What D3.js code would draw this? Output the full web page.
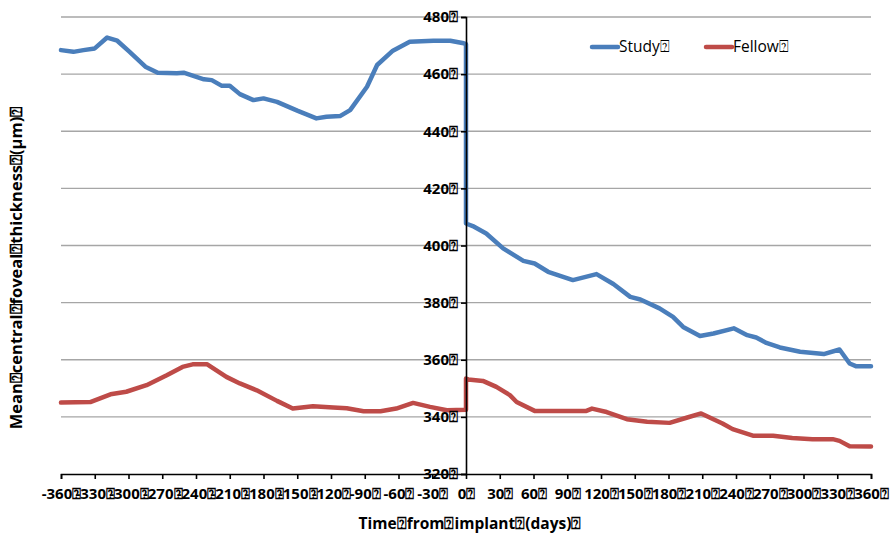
<!DOCTYPE html>
<html>
<head>
<meta charset="utf-8">
<script src="https://cdn.jsdelivr.net/npm/d3@7"></script>
<style>
  html, body { margin: 0; padding: 0; background: #fff; }
  svg { display: block; }
  text { font-family: "Open Sans", "DejaVu Sans", sans-serif; }
</style>
</head>
<body>
<svg id="chart" width="893" height="536"></svg>
<script>
// Placeholder glyph carried by every label
const BOX = "\u2370";

// Study eye: mean central foveal thickness by day relative to implant
const studyDays = [-360,-349,-340,-330,-319,-310,-299,-285,-274,-257,
  -251,-233,-226,-217,-210,-201,-189,-180,-168,-150,
  -133,-124,-112,-103,-88,-79,-65,-50,-29,-14,
  -2,0,0,6,18,33,51,61,73,95,
  116,131,146,155,172,184,193,208,220,238,
  250,258,267,279,297,318,332,341,347,360];
const studyValues = [468.4,467.8,468.4,469.0,472.8,471.7,467.8,462.6,460.5,460.3,
  460.5,458.2,457.9,455.9,455.9,453.0,450.9,451.5,450.3,447.2,
  444.5,445.1,445.3,447.4,455.6,463.2,468.2,471.3,471.7,471.7,
  470.8,470.5,407.7,406.8,404.2,399.0,394.6,393.7,390.8,387.9,
  390.0,386.5,382.0,381.1,378.0,375.0,371.5,368.3,369.2,371.0,
  368.6,367.8,365.9,364.3,362.8,362.0,363.6,358.7,357.7,357.7];

// Fellow eye
const fellowDays = [-360,-334,-316,-302,-284,-266,-252,-243,-230,-213,
  -201,-186,-168,-154,-136,-118,-106,-91,-76,-62,
  -47,-32,-17,0,0,2,15,27,39,45,
  61,107,112,125,143,161,181,196,209,228,
  237,255,273,290,308,326,332,341,360];
const fellowValues = [345.0,345.2,347.9,348.8,351.1,354.6,357.5,358.4,358.4,354.0,
  351.7,349.3,345.6,342.9,343.7,343.3,343.0,342.0,342.0,342.9,
  344.9,343.5,342.3,342.5,353.4,353.1,352.6,350.5,347.6,345.2,
  342.1,342.1,342.9,341.7,339.2,338.3,337.9,339.7,341.2,337.7,
  335.7,333.4,333.4,332.6,332.2,332.2,331.6,329.7,329.6];

const xTicks = [-360,-330,-300,-270,-240,-210,-180,-150,-120,-90,-60,-30,0,30,60,90,120,150,180,210,240,270,300,330,360];
const yTicks = [320,340,360,380,400,420,440,460,480];

const seriesNames = ["Study", "Fellow"];
const seriesColors = ["#4a7ebb", "#be4b48"];

const svg = d3.select("#chart");
const x = d3.scaleLinear().domain([-360, 360]).range([61, 871]);
const y = d3.scaleLinear().domain([320, 480]).range([474, 17]);

// Horizontal gridlines
svg.append("g")
  .selectAll("line")
  .data(yTicks.filter(v => v > 320))
  .join("line")
  .attr("x1", x(-360)).attr("x2", x(360))
  .attr("y1", d => y(d)).attr("y2", d => y(d))
  .attr("stroke", "#a6a6a6")
  .attr("stroke-width", 1.3);

// Data lines
const line = d3.line().x(d => x(d[0])).y(d => y(d[1]));
const series = [
  d3.zip(studyDays, studyValues),
  d3.zip(fellowDays, fellowValues)
];
svg.append("g")
  .selectAll("path")
  .data(series)
  .join("path")
  .attr("d", line)
  .attr("fill", "none")
  .attr("stroke", (d, i) => seriesColors[i])
  .attr("stroke-width", 4.5)
  .attr("stroke-linejoin", "round")
  .attr("stroke-linecap", "round");

// Y axis crossing at day 0
const yAxis = svg.append("g")
  .attr("transform", `translate(${x(0)},0)`)
  .call(d3.axisLeft(y).tickValues(yTicks).tickSize(5).tickPadding(3)
    .tickFormat(d => d + BOX));
yAxis.select(".domain").attr("stroke", "#000").attr("stroke-width", 1.6);
yAxis.selectAll(".tick line").attr("stroke", "#000").attr("stroke-width", 1.6);
yAxis.selectAll(".tick text")
  .attr("font-family", "'Open Sans', sans-serif")
  .attr("font-weight", "bold")
  .attr("font-size", 15)
  .attr("fill", "#000");

// X axis along the 320 line
const xAxis = svg.append("g")
  .attr("transform", `translate(0,${y(320)})`)
  .call(d3.axisBottom(x).tickValues(xTicks).tickSize(5).tickPadding(9)
    .tickFormat(d => d + BOX));
xAxis.select(".domain").attr("stroke", "#000").attr("stroke-width", 1.6);
xAxis.selectAll(".tick line").attr("stroke", "#000").attr("stroke-width", 1.6);
xAxis.selectAll(".tick text")
  .attr("font-family", "'Open Sans', sans-serif")
  .attr("font-weight", "bold")
  .attr("font-size", 15)
  .attr("fill", "#000");

// Axis titles
svg.append("text")
  .attr("x", 470).attr("y", 529)
  .attr("text-anchor", "middle")
  .attr("font-weight", "bold")
  .attr("font-size", 15.5)
  .text(`Time${BOX}from${BOX}implant${BOX}(days)${BOX}`);

svg.append("text")
  .attr("transform", "translate(22,268) rotate(-90)")
  .attr("text-anchor", "middle")
  .attr("font-weight", "bold")
  .attr("font-size", 16.5)
  .text(`Mean${BOX}central${BOX}foveal${BOX}thickness${BOX}(\u00b5m)${BOX}`);

// Legend
const legendX = [592, 706];
const legend = svg.append("g")
  .selectAll("g")
  .data(seriesNames)
  .join("g")
  .attr("transform", (d, i) => `translate(${legendX[i]},47)`);
legend.append("line")
  .attr("x1", 0).attr("x2", 26)
  .attr("stroke", (d, i) => seriesColors[i])
  .attr("stroke-width", 4.5)
  .attr("stroke-linecap", "round");
legend.append("text")
  .attr("x", 27).attr("y", 5)
  .attr("font-size", 15.5)
  .attr("fill", "#000")
  .text(d => d + BOX);
</script>
</body>
</html>
